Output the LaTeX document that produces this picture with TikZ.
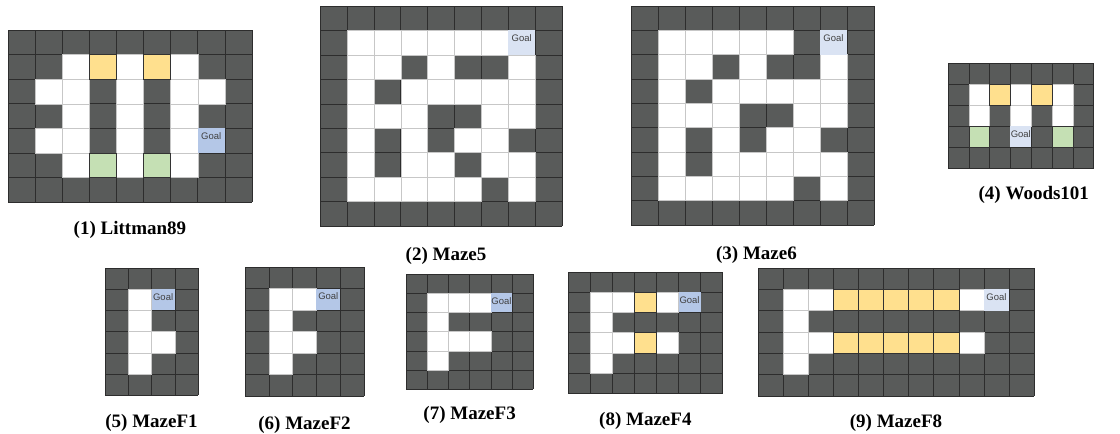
\documentclass[tikz,border=0pt]{standalone}
\usepackage{fontspec}
\setmainfont{Liberation Serif}
\newfontfamily\goalfont{Liberation Sans}
\usetikzlibrary{positioning}
\definecolor{mzwall}{RGB}{89,91,90}
\definecolor{mzline}{RGB}{45,45,45}
\definecolor{mzfood}{RGB}{255,224,142}
\definecolor{mzstart}{RGB}{197,224,180}
\definecolor{mzgoal}{RGB}{180,199,231}
\definecolor{mzgoallt}{RGB}{218,227,243}

\tikzset{
  wall/.style={fill=mzwall},
  cellline/.style={draw=mzline,line width=0.5pt},
  open/.style={fill=white,draw=black!22,line width=0.4pt},
  food/.style={fill=mzfood,draw=black!80,line width=0.5pt},
  start/.style={fill=mzstart,draw=black!80,line width=0.5pt},
  goal/.style={fill=mzgoal},
  goallt/.style={fill=mzgoallt},
  goaltxt/.style={font=\goalfont\fontsize{9.5}{10}\selectfont,text=black!75,inner sep=0pt,anchor=north,yshift=-4pt},
  caption/.style={font=\fontsize{19}{22}\selectfont\bfseries,inner sep=0pt,anchor=base}
}

% walls + dark grid, then open cells on top
\newcommand{\mazebox}[2]{%
  \fill[wall] (0,0) rectangle (#1,#2);
  \foreach \i in {0,...,#1} \draw[cellline] (\i,0) -- (\i,#2);
  \foreach \j in {0,...,#2} \draw[cellline] (0,\j) -- (#1,\j);}
\newcommand{\cells}[2]{\foreach \c/\r in {#2} \draw[#1] (\c,\r) rectangle ++(1,1);}

\begin{document}
\begin{tikzpicture}[x=1pt,y=-1pt]
\useasboundingbox (0,0) rectangle (1120,434);

% (1) Littman89
\begin{scope}[shift={(8,30)},x=27.1pt,y=-24.57pt]
  \mazebox{9}{7}
  \cells{open}{2/1,4/1,6/1,1/2,2/2,4/2,6/2,7/2,2/3,4/3,6/3,1/4,2/4,4/4,6/4,2/5,4/5,6/5}
  \cells{food}{3/1,5/1}
  \cells{start}{3/5,5/5}
  \fill[goal] (7,4) rectangle ++(1,1);
  \node[goaltxt] (g1) at (7.5,4) {Goal};
  \coordinate (m1) at (4.5,7);
\end{scope}
\node[below=33pt of m1,caption] (c1) {(1) Littman89};

% (2) Maze5
\begin{scope}[shift={(320,6)},x=26.9pt,y=-24.44pt]
  \mazebox{9}{9}
  \cells{open}{1/1,2/1,3/1,4/1,5/1,6/1,1/2,2/2,4/2,7/2,1/3,3/3,4/3,5/3,6/3,7/3,
    1/4,2/4,3/4,6/4,7/4,1/5,3/5,5/5,6/5,1/6,3/6,4/6,6/6,7/6,1/7,2/7,3/7,4/7,5/7,7/7}
  \fill[goallt] (7,1) rectangle ++(1,1);
  \node[goaltxt] (g2) at (7.5,1) {Goal};
  \coordinate (m2) at (4.5,9);
\end{scope}
\node[below=35pt of m2,caption,xshift=5pt] (c2) {(2) Maze5};

% (3) Maze6
\begin{scope}[shift={(631,6)},x=27pt,y=-24.33pt]
  \mazebox{9}{9}
  \cells{open}{1/1,2/1,3/1,4/1,5/1,1/2,2/2,4/2,7/2,1/3,3/3,4/3,5/3,6/3,7/3,
    1/4,2/4,3/4,6/4,7/4,1/5,3/5,5/5,6/5,1/6,3/6,4/6,5/6,6/6,7/6,1/7,2/7,3/7,4/7,5/7,7/7}
  \fill[goallt] (7,1) rectangle ++(1,1);
  \node[goaltxt] (g3) at (7.5,1) {Goal};
  \coordinate (m3) at (4.5,9);
\end{scope}
\node[below=35pt of m3,caption,xshift=4pt] (c3) {(3) Maze6};

% (4) Woods101
\begin{scope}[shift={(948,63)},x=20.8pt,y=-21pt]
  \mazebox{7}{5}
  \cells{open}{1/1,3/1,5/1,1/2,3/2,5/2}
  \cells{food}{2/1,4/1}
  \cells{start}{1/3,5/3}
  \fill[goallt] (3,3) rectangle ++(1,1);
  \node[goaltxt] (g4) at (3.5,3) {Goal};
  \coordinate (m4) at (3.5,5);
\end{scope}
\node[below=31pt of m4,caption,xshift=13pt] (c4) {(4) Woods101};

% (5) MazeF1
\begin{scope}[shift={(105,268)},x=23.25pt,y=-21.2pt]
  \mazebox{4}{6}
  \cells{open}{1/1,1/2,1/3,2/3,1/4}
  \fill[goal] (2,1) rectangle ++(1,1);
  \node[goaltxt] (g5) at (2.5,1) {Goal};
  \coordinate (m5) at (2,6);
\end{scope}
\node[below=32pt of m5,caption] (c5) {(5) MazeF1};

% (6) MazeF2
\begin{scope}[shift={(245,267)},x=23.8pt,y=-21.5pt]
  \mazebox{5}{6}
  \cells{open}{1/1,2/1,1/2,1/3,2/3,1/4}
  \fill[goal] (3,1) rectangle ++(1,1);
  \node[goaltxt] (g6) at (3.5,1) {Goal};
  \coordinate (m6) at (2.5,6);
\end{scope}
\node[below=33pt of m6,caption] (c6) {(6) MazeF2};

% (7) MazeF3
\begin{scope}[shift={(406,274)},x=21.2pt,y=-19.2pt]
  \mazebox{6}{6}
  \cells{open}{1/1,2/1,3/1,1/2,1/3,2/3,3/3,1/4}
  \fill[goal] (4,1) rectangle ++(1,1);
  \node[goaltxt] (g7) at (4.5,1) {Goal};
  \coordinate (m7) at (3,6);
\end{scope}
\node[below=30pt of m7,caption] (c7) {(7) MazeF3};

% (8) MazeF4
\begin{scope}[shift={(568,272)},x=22.1pt,y=-20.2pt]
  \mazebox{7}{6}
  \cells{open}{1/1,2/1,4/1,1/2,1/3,2/3,4/3,1/4}
  \cells{food}{3/1,3/3}
  \fill[goal] (5,1) rectangle ++(1,1);
  \node[goaltxt] (g8) at (5.5,1) {Goal};
  \coordinate (m8) at (3.5,6);
\end{scope}
\node[below=32pt of m8,caption] (c8) {(8) MazeF4};

% (9) MazeF8
\begin{scope}[shift={(758,268)},x=25.1pt,y=-21.3pt]
  \mazebox{11}{6}
  \cells{open}{1/1,2/1,8/1,1/2,1/3,2/3,8/3,1/4}
  \cells{food}{3/1,4/1,5/1,6/1,7/1,3/3,4/3,5/3,6/3,7/3}
  \fill[goallt] (9,1) rectangle ++(1,1);
  \node[goaltxt] (g9) at (9.5,1) {Goal};
  \coordinate (m9) at (5.5,6);
\end{scope}
\node[below=32pt of m9,caption] (c9) {(9) MazeF8};

\end{tikzpicture}
\end{document}
